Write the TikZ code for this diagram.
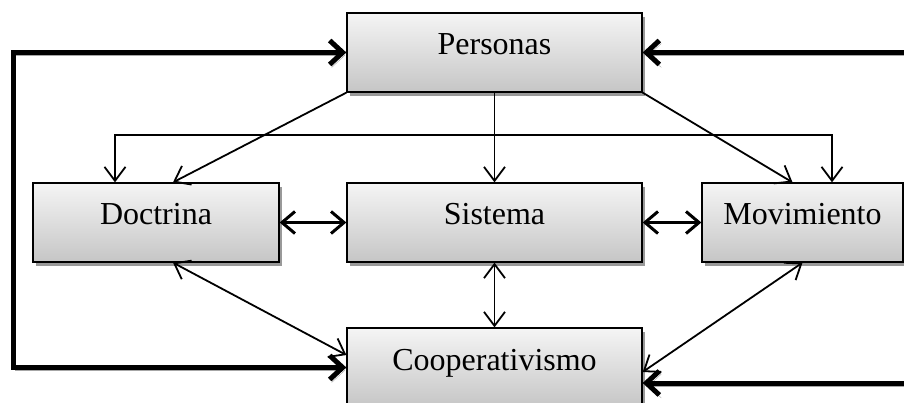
\documentclass[tikz,border=0pt]{standalone}
\usepackage{fontspec}
\setmainfont{Liberation Serif}
\usetikzlibrary{arrows.meta,shadows,calc}
\tikzset{
  thinhead/.tip={Straight Barb[length=14pt,width=21pt]},
  medhead/.tip={Straight Barb[length=13pt,width=22pt]},
  thickhead/.tip={Straight Barb[length=13pt,width=24pt]}
}
\begin{document}
\begin{tikzpicture}[x=1pt,y=-1pt,
  box/.style={draw=black, line width=1.3pt, top color=gray!8, bottom color=gray!45,
    minimum height=79pt, inner sep=0pt, text height=16pt, text depth=11pt,
    font=\fontsize{32}{36}\selectfont,
    drop shadow={shadow xshift=3pt, shadow yshift=-4pt, fill=black!40, opacity=1}},
  thinarrow/.style={line width=1.8pt, -thinhead},
  thinboth/.style={line width=1.8pt, thinhead-thinhead},
  medboth/.style={line width=3pt, medhead-medhead},
  thickline/.style={line width=5pt,
    preaction={draw=black!35, transform canvas={xshift=2pt,yshift=-3pt}}}
]
\clip (0,0) rectangle (904,403);
\node[box, minimum width=295pt] (pers) at (494.5,52.5) {Personas};
\node[box, minimum width=246pt] (doct) at (156,222.5) {Doctrina};
\node[box, minimum width=295pt] (sist) at (494.5,222.5) {Sistema};
\node[box, minimum width=201pt] (movi) at (802.5,222.5) {Movimiento};
\node[box, minimum width=295pt] (coop) at (494.5,367.5) {Cooperativismo};

\coordinate (ltop) at (13,52.5);
\coordinate (lbot) at (13,367.5);
\coordinate (rtop) at (906,52.5);
\coordinate (rbot) at (906,383);
\coordinate (bl) at (115,135);
\coordinate (br) at (832,135);

% thick loops
\draw[thickline, thickhead-thickhead] (pers.west) -- (ltop) -- (lbot) -- (coop.west);
\draw[thickline, -thickhead] (rtop) -- (pers.east);
\draw[thickline, -thickhead] (rbot) -- (rbot -| coop.east);

% from Personas
\draw[thinarrow] (pers.south west) -- ($(doct.north)+(17,0)$);
\draw[thinarrow] (pers.south) -- (sist.north);
\draw[thinarrow] (pers.south east) -- ($(movi.north)+(-10,0)$);
\draw[thinboth] (bl |- doct.north) -- (bl) -- (br) -- (br |- movi.north);

% middle row
\draw[medboth] (doct.east) -- (sist.west);
\draw[medboth] (sist.east) -- (movi.west);
\draw[thinboth] (sist.south) -- (coop.north);
\draw[thinboth] ($(doct.south)+(17,0)$) -- ($(coop.west)+(0,-12.5)$);
\draw[thinboth] (movi.south) -- ($(coop.east)+(0,4.5)$);
\end{tikzpicture}
\end{document}
